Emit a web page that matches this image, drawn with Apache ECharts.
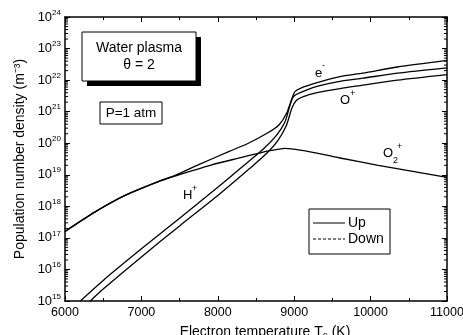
<!DOCTYPE html>
<html><head><meta charset="utf-8">
<script src="https://cdn.jsdelivr.net/npm/echarts@6/dist/echarts.min.js"></script>
<style>html,body{margin:0;padding:0;background:#fff}#c{width:463px;height:335px}</style>
</head><body><div id="c"></div>
<script>
// ---- data ----
const tElectron = [6000, 6400, 6800, 7250, 7450, 7750, 8150, 8400, 8650, 8800, 8900, 8970, 9010, 9080, 9300, 9600, 9900, 10350, 11000];
const nElectron = [1.6e17, 6.8e17, 2.3e18, 6.5e18, 9.8e18, 2.1e19, 5.5e19, 1.0e20, 2.1e20, 3.8e20, 8.9e20, 2.6e21, 4.3e21, 5.5e21, 8.3e21, 1.29e22, 1.66e22, 2.6e22, 4.2e22];

const tO2plus = [6000, 6400, 6800, 7250, 7450, 7900, 8300, 8530, 8700, 8880, 9600, 10100, 11000];
const nO2plus = [1.6e17, 6.8e17, 2.3e18, 6.4e18, 9.3e18, 2.0e19, 3.5e19, 4.8e19, 5.9e19, 6.9e19, 3.4e19, 2.0e19, 8.3e18];

const tHplus = [6200, 6500, 7000, 7500, 8000, 8400, 8600, 8770, 8880, 8945, 8990, 9080, 9300, 9600, 9900, 10350, 11000];
const nHplus = [1.0e15, 4.5e15, 4.5e16, 4.2e17, 4.0e18, 2.6e19, 6.7e19, 1.8e20, 4.8e20, 1.6e21, 3.0e21, 4.0e21, 6.3e21, 9.1e21, 1.15e22, 1.66e22, 2.45e22];

const tOplus = [6330, 6500, 7000, 7500, 8000, 8420, 8640, 8790, 8900, 8970, 9030, 9120, 9300, 9600, 9900, 10350, 11000];
const nOplus = [1.0e15, 2.4e15, 2.5e16, 2.4e17, 2.2e18, 1.6e19, 4.8e19, 1.26e20, 3.8e20, 1.3e21, 2.3e21, 3.0e21, 4.0e21, 5.4e21, 6.9e21, 1.0e22, 1.5e22];

const xMin = 6000, xMax = 11000, xStep = 1000;
const yExponents = [15, 16, 17, 18, 19, 20, 21, 22, 23, 24];
const minorMantissas = [2, 3, 4, 5, 6, 7, 8, 9];

// ---- chart ----
const FONT = '"Liberation Sans", Arial, sans-serif';
const pairs = (t, n) => t.map((v, i) => [v, n[i]]);
const curveStyle = { color: '#000', width: 1.3 };

const minorData = [];
yExponents.slice(0, -1).forEach(e => minorMantissas.forEach(m => minorData.push([xMin, m * Math.pow(10, e)])));

function curve(name, t, n) {
  return { name, type: 'line', data: pairs(t, n), showSymbol: false, smooth: 0.25,
    lineStyle: curveStyle, itemStyle: { color: '#000' }, clip: true, animation: false, z: 3 };
}

const chart = echarts.init(document.getElementById('c'), null, { renderer: 'canvas' });
const axisLineStyle = { color: '#000', width: 1.5 };
chart.setOption({
  animation: false,
  backgroundColor: '#fff',
  textStyle: { fontFamily: FONT },
  grid: { left: 65, right: 16, top: 17, bottom: 34, containLabel: false, outerBoundsMode: 'none' },
  xAxis: [
    { type: 'value', min: xMin, max: xMax, interval: xStep, position: 'bottom',
      axisLine: { lineStyle: axisLineStyle },
      axisTick: { inside: true, length: 5, lineStyle: { color: '#000', width: 1 } },
      minorTick: { show: true, splitNumber: 2, length: 3, lineStyle: { color: '#000', width: 1 } },
      splitLine: { show: false },
      axisLabel: { color: '#000', fontSize: 12.5, fontFamily: FONT, margin: 5, showMaxLabel: true, showMinLabel: true,
        formatter: v => String(v) },
      name: 'Electron temperature T{sub|e} (K)', nameLocation: 'middle', nameGap: 24,
      nameTextStyle: { color: '#000', fontSize: 14, fontFamily: FONT, padding: [0, 0, 0, 18],
        rich: { sub: { fontSize: 9, verticalAlign: 'bottom', fontFamily: FONT, color: '#000', padding: [6, 0, 0, 0] } } } },
    { type: 'value', min: xMin, max: xMax, interval: xStep, position: 'top',
      axisLine: { lineStyle: axisLineStyle },
      axisTick: { inside: true, length: 5, lineStyle: { color: '#000', width: 1 } },
      minorTick: { show: true, splitNumber: 2, length: 3, lineStyle: { color: '#000', width: 1 } },
      splitLine: { show: false }, axisLabel: { show: false } }
  ],
  yAxis: [
    { type: 'log', logBase: 10, min: 1e15, max: 1e24, position: 'left',
      axisLine: { show: true, lineStyle: axisLineStyle },
      axisTick: { show: true, inside: true, length: 5, lineStyle: { color: '#000', width: 1 } },
      splitLine: { show: false },
      axisLabel: { color: '#000', margin: 4,
        formatter: v => '{b|10}{s|' + Math.round(Math.log10(v)) + '}',
        rich: { b: { fontSize: 13, fontFamily: FONT, color: '#000', lineHeight: 17 },
                s: { fontSize: 8, fontFamily: FONT, color: '#000', lineHeight: 8, verticalAlign: 'top' } } },
      name: 'Population number density (m⁻³)', nameLocation: 'middle', nameGap: 31,
      nameTextStyle: { color: '#000', fontSize: 14, fontFamily: FONT } },
    { type: 'log', logBase: 10, min: 1e15, max: 1e24, position: 'right',
      axisLine: { show: true, lineStyle: axisLineStyle },
      axisTick: { show: true, inside: true, length: 5, lineStyle: { color: '#000', width: 1 } },
      splitLine: { show: false }, axisLabel: { show: false } }
  ],
  series: [
    curve('e-', tElectron, nElectron),
    curve('O2+', tO2plus, nO2plus),
    curve('H+', tHplus, nHplus),
    curve('O+', tOplus, nOplus),
    { type: 'custom', name: 'minor', data: minorData, silent: true, z: 4,
      renderItem: (params, api) => {
        const v = api.value(1);
        const pl = api.coord([xMin, v]);
        const pr = api.coord([xMax, v]);
        const st = { stroke: '#000', lineWidth: 1 };
        return { type: 'group', children: [
          { type: 'line', shape: { x1: pl[0], y1: pl[1], x2: pl[0] + 3, y2: pl[1] }, style: st },
          { type: 'line', shape: { x1: pr[0] - 3, y1: pr[1], x2: pr[0], y2: pr[1] }, style: st }
        ] };
      } }
  ],
  graphic: [
    // Water plasma box with shadow
    { type: 'rect', shape: { x: 87, y: 37, width: 114, height: 49 }, style: { fill: '#000' }, z: 10 },
    { type: 'rect', shape: { x: 82, y: 32, width: 114, height: 49 }, style: { fill: '#fff', stroke: '#000', lineWidth: 1 }, z: 11 },
    { type: 'text', x: 139, y: 48, style: { text: 'Water plasma', font: '14px ' + FONT, fill: '#000', align: 'center', verticalAlign: 'middle' }, z: 12 },
    { type: 'text', x: 139, y: 65, style: { text: 'θ = 2', font: '14px ' + FONT, fill: '#000', align: 'center', verticalAlign: 'middle' }, z: 12 },
    // P=1 atm
    { type: 'rect', shape: { x: 100, y: 102, width: 62, height: 22 }, style: { fill: '#fff', stroke: '#000', lineWidth: 1 }, z: 11 },
    { type: 'text', x: 131, y: 113, style: { text: 'P=1 atm', font: '13.5px ' + FONT, fill: '#000', align: 'center', verticalAlign: 'middle' }, z: 12 },
    // curve labels
    { type: 'text', x: 315, y: 73, style: { text: 'e', font: '13px ' + FONT, fill: '#000', verticalAlign: 'middle' }, z: 12 },
    { type: 'text', x: 322, y: 66, style: { text: '-', font: '9px ' + FONT, fill: '#000', verticalAlign: 'middle' }, z: 12 },
    { type: 'text', x: 340, y: 100, style: { text: 'O', font: '13px ' + FONT, fill: '#000', verticalAlign: 'middle' }, z: 12 },
    { type: 'text', x: 350, y: 94, style: { text: '+', font: '9px ' + FONT, fill: '#000', verticalAlign: 'middle' }, z: 12 },
    { type: 'text', x: 383, y: 153, style: { text: 'O', font: '13px ' + FONT, fill: '#000', verticalAlign: 'middle' }, z: 12 },
    { type: 'text', x: 393, y: 161, style: { text: '2', font: '9px ' + FONT, fill: '#000', verticalAlign: 'middle' }, z: 12 },
    { type: 'text', x: 397, y: 147, style: { text: '+', font: '9px ' + FONT, fill: '#000', verticalAlign: 'middle' }, z: 12 },
    { type: 'text', x: 183, y: 195, style: { text: 'H', font: '13px ' + FONT, fill: '#000', verticalAlign: 'middle' }, z: 12 },
    { type: 'text', x: 192, y: 189, style: { text: '+', font: '9px ' + FONT, fill: '#000', verticalAlign: 'middle' }, z: 12 },
    // legend
    { type: 'rect', shape: { x: 309, y: 209, width: 81, height: 45 }, style: { fill: '#fff', stroke: '#000', lineWidth: 1 }, z: 11 },
    { type: 'line', shape: { x1: 313, y1: 223, x2: 345, y2: 223 }, style: { stroke: '#000', lineWidth: 1 }, z: 12 },
    { type: 'text', x: 348, y: 223, style: { text: 'Up', font: '14px ' + FONT, fill: '#000', verticalAlign: 'middle' }, z: 12 },
    { type: 'line', shape: { x1: 313, y1: 239, x2: 345, y2: 239 }, style: { stroke: '#000', lineWidth: 1, lineDash: [3, 2] }, z: 12 },
    { type: 'text', x: 348, y: 239, style: { text: 'Down', font: '14px ' + FONT, fill: '#000', verticalAlign: 'middle' }, z: 12 }
  ]
});
</script>
</body></html>
